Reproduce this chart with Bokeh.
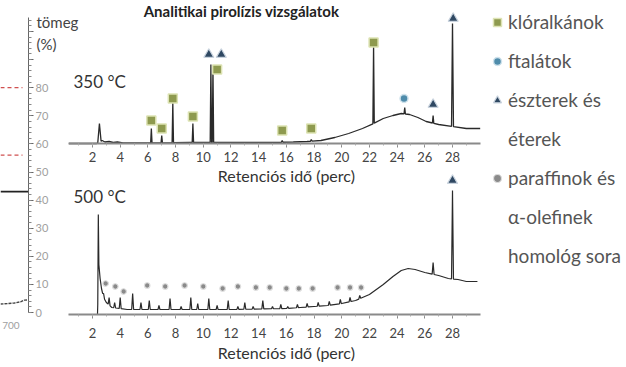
import numpy as np
from bokeh.plotting import figure
from bokeh.models import Range1d, LinearAxis, FixedTicker, Legend, LegendItem, Label
from bokeh.embed import file_html
from bokeh.resources import INLINE

FONT = "Lato"

# ---------------- data ----------------
ret_ticks = [2, 4, 6, 8, 10, 12, 14, 16, 18, 20, 22, 24, 26, 28]
ret_minor = list(range(1, 30))
tga_ticks = [0, 10, 20, 30, 40, 50, 60, 70, 80, 90, 100]
tga_minor = list(range(0, 106, 2))

# 350 °C chromatogram: baseline (retention time, intensity) and peaks
t350_base = [0.3, 2.3, 2.7, 2.9, 3.2, 3.5, 3.8, 4.2, 6, 9, 12, 15, 16.5, 17.5, 18.5,
             19.5, 20.5, 21.5, 22.3, 23, 23.7, 24.3, 24.9, 25.5, 26.1, 27, 28, 29, 30]
h350_base = [0, 0, 3, 1.5, 2, 1, 1.5, 0.5, 0.5, 1, 1, 1, 1.5, 2, 3,
             6, 10, 15, 20, 25, 28, 30, 29, 26, 22, 19, 17, 15, 15]
t350_peak = [2.5, 6.25, 7.0, 7.8, 9.25, 10.55, 10.7, 15.7, 17.8, 22.3, 24.55, 26.6, 28.0]
h350_peak = [20, 15, 8, 41, 20, 79, 76, 3, 4, 98, 36, 28, 120]
w350_peak = [0.12, 0.05, 0.05, 0.05, 0.05, 0.05, 0.05, 0.06, 0.06, 0.05, 0.05, 0.05, 0.07]

# 350 °C compound markers
chl350_t = [6.25, 7.0, 7.8, 9.25, 11.0, 15.7, 17.8, 22.3]
chl350_h = [23, 15, 45, 27, 74, 13, 15, 101]
pht350_t = [24.5]
pht350_h = [45]
est350_t = [10.4, 11.3, 26.6, 28.05]
est350_h = [89, 89, 39, 125]

# 500 °C chromatogram
t500_base = [0.3, 2.36, 2.46, 2.55, 2.65, 2.8, 3.0, 3.4, 4.5, 8, 12, 16, 17, 18, 19, 20,
             21, 22, 23, 23.7, 24.3, 24.8, 25.3, 26, 27, 27.7, 28.4, 29, 29.8]
h500_base = [0, 0, 50, 36, 26, 17, 12, 7, 5, 5, 5, 6, 7, 8, 9, 11,
             14, 20, 30, 38, 44, 46, 45, 42, 39, 36, 35, 33, 33]
t500_peak = [2.42, 2.8, 3.2, 3.6, 4.0, 4.9, 5.5, 6.1, 6.8, 7.6, 8.4, 9.1, 9.6, 10.4, 11.0,
             11.8, 12.5, 13.0, 13.6, 14.3, 15.0, 15.6, 16.1, 16.8, 17.5, 18.3, 19.1, 19.9,
             20.6, 21.3, 26.6, 28.0]
h500_peak = [100, 21, 17, 12, 17, 21, 12, 14, 9, 16, 8, 17, 11, 16, 9,
             14, 8, 12, 8, 14, 8, 10, 8, 10, 11, 12, 13, 15,
             17, 19, 52, 124]
w500_peak = [0.04] + [0.07] * 31

# 500 °C compound markers
par500_t = [2.95, 3.65, 4.25, 5.95, 7.25, 8.65, 10.0, 11.4, 12.5, 13.8, 14.8, 16.0,
            16.9, 17.9, 19.7, 20.6, 21.4]
par500_h = [31, 28, 23, 29, 28, 29, 28, 26, 28, 27, 27, 26, 26, 26, 27, 27, 27]
est500_t = [28.0]
est500_h = [134]

# thermogravimetric curve fragment (temperature °C, mass %)
tga_t = [660, 800]
tga_m = [43, 43]
tga2_t = [660, 700, 730, 760, 780, 800]
tga2_m = [3.0, 3.2, 3.4, 3.8, 4.4, 4.5]
tga_ref_t = [660, 770]
tga_ref1 = [80, 80]
tga_ref2 = [56, 56]

legend_labels = ["klóralkánok", "ftalátok", "észterek és", "éterek",
                 "paraffinok és", "α-olefinek", "homológ sora"]


def trace(bt, bh, pt, ph, pw):
    bt = np.asarray(bt, float)
    bh = np.asarray(bh, float)
    keep = np.ones(len(bt), bool)
    for t, w in zip(pt, pw):
        keep &= ~((bt > t - w) & (bt < t + w))
    xs = list(bt[keep])
    ys = list(bh[keep])
    for t, h, w in zip(pt, ph, pw):
        xs += [t - w, t, t + w]
        ys += [float(np.interp(t - w, bt, bh)), h, float(np.interp(t + w, bt, bh))]
    order = np.argsort(xs, kind="stable")
    return np.array(xs)[order], np.array(ys)[order]


# ---------------- figure ----------------
W, H = 626, 367
PXM = 360 / 26.0            # pixels per minute
X0 = 2 - 92 / PXM
p = figure(width=W, height=H, output_backend="svg", toolbar_location=None,
           x_range=Range1d(X0, X0 + W / PXM), y_range=Range1d(H, 0),
           x_axis_type=None, y_axis_type=None, min_border=0,
           outline_line_color=None, background_fill_color="white",
           border_fill_color="white")
p.extra_x_ranges = {"scr": Range1d(0, W), "tga": Range1d(660, 660 + W / 0.2)}
p.extra_y_ranges = {"top": Range1d(-(H - 143), 143),
                    "bot": Range1d(-(H - 314), 314),
                    "tga": Range1d(-(H - 312) / 2.81, 312 / 2.81)}

# TGA fragment
p.line(tga_ref_t, tga_ref1, x_range_name="tga", y_range_name="tga",
       color="#d05050", line_width=1.2, line_dash="4 3")
p.line(tga_ref_t, tga_ref2, x_range_name="tga", y_range_name="tga",
       color="#d05050", line_width=1.2, line_dash="4 3")
p.line(tga_t, tga_m, x_range_name="tga", y_range_name="tga", color="#222", line_width=1.6)
p.line(tga2_t, tga2_m, x_range_name="tga", y_range_name="tga", color="#444",
       line_width=1.4, line_dash="3 1")

tax = LinearAxis(x_range_name="tga", y_range_name="tga", fixed_location=800, bounds=(0, 105),
                 ticker=FixedTicker(ticks=tga_ticks, minor_ticks=tga_minor),
                 major_label_overrides={90: "", 100: ""})
tax.axis_line_color = "#666"
tax.axis_line_width = 1
tax.major_tick_line_color = "#666"
tax.minor_tick_line_color = "#888"
tax.major_tick_in = 0
tax.major_tick_out = 5
tax.minor_tick_in = 0
tax.minor_tick_out = 3
tax.major_label_standoff = 2
tax.major_label_text_font = FONT
tax.major_label_text_font_size = "11px"
tax.major_label_text_color = "#a0a0a0"
p.add_layout(tax, "right")

p.add_layout(Label(x=712, y=-3.5, x_range_name="tga", y_range_name="tga", text="700",
                   text_font=FONT, text_font_size="10px", text_color="#a0a0a0",
                   text_align="center", text_baseline="top"))
p.add_layout(Label(x=36, y=21, x_range_name="scr", text="tömeg", text_font=FONT,
                   text_font_size="15px", text_color="#444", text_baseline="middle"))
p.add_layout(Label(x=36, y=43, x_range_name="scr", text="(%)", text_font=FONT,
                   text_font_size="15px", text_color="#444", text_baseline="middle"))

# title
p.add_layout(Label(x=241, y=1, x_range_name="scr", text="Analitikai pirolízis vizsgálatok",
                   text_font=FONT, text_font_size="15px", text_font_style="bold",
                   text_color="#222", text_align="center", text_baseline="top"))

# chromatogram traces
x350, y350 = trace(t350_base, h350_base, t350_peak, h350_peak, w350_peak)
p.line(x350, y350, y_range_name="top", color="#2a2a2a", line_width=1.3)
x500, y500 = trace(t500_base, h500_base, t500_peak, h500_peak, w500_peak)
p.line(x500, y500, y_range_name="bot", color="#2a2a2a", line_width=1.2)


def ret_axis(rng, standoff):
    ax = LinearAxis(y_range_name=rng, fixed_location=0, bounds=(0.27, 30),
                    ticker=FixedTicker(ticks=ret_ticks, minor_ticks=ret_minor))
    ax.axis_line_color = "#8a8a8a"
    ax.axis_line_width = 2
    ax.major_tick_line_color = "#8a8a8a"
    ax.minor_tick_line_color = "#aaaaaa"
    ax.major_tick_in = 0
    ax.major_tick_out = 4
    ax.minor_tick_in = 0
    ax.minor_tick_out = 2
    ax.major_label_standoff = standoff
    ax.major_label_text_font = FONT
    ax.major_label_text_font_size = "13px"
    ax.major_label_text_color = "#444"
    p.add_layout(ax, "below")


ret_axis("top", 4)
ret_axis("bot", 9)

p.add_layout(Label(x=16.0, y=-32, y_range_name="top", text="Retenciós idő (perc)",
                   text_font=FONT, text_font_size="16px", text_color="#333",
                   text_align="center", text_baseline="middle"))
p.add_layout(Label(x=16.0, y=-38, y_range_name="bot", text="Retenciós idő (perc)",
                   text_font=FONT, text_font_size="16px", text_color="#333",
                   text_align="center", text_baseline="middle"))
p.add_layout(Label(x=73, y=81, x_range_name="scr", text="350 °C", text_font=FONT,
                   text_font_size="17px", text_color="#333", text_baseline="middle"))
p.add_layout(Label(x=73, y=196, x_range_name="scr", text="500 °C", text_font=FONT,
                   text_font_size="17px", text_color="#333", text_baseline="middle"))

# markers
SQ = dict(fill_color="#8e9a4f", line_color="#dde3b4", line_width=1.5)
CI = dict(fill_color="#4f8cab", line_color="#cfe2ec", line_width=1.5)
TR = dict(fill_color="#2f4862", line_color="#c9d3de", line_width=1.2)
PA = dict(fill_color="#8a8a8a", line_color="#dddddd", line_width=1.2)

r_sq = p.scatter(chl350_t, chl350_h, y_range_name="top", marker="square", size=9, **SQ)
r_ci = p.scatter(pht350_t, pht350_h, y_range_name="top", marker="circle", size=8, **CI)
r_tr = p.scatter(est350_t, est350_h, y_range_name="top", marker="triangle", size=10, **TR)
p.scatter(est500_t, est500_h, y_range_name="bot", marker="triangle", size=10, **TR)
r_pa = p.scatter(par500_t, par500_h, y_range_name="bot", marker="circle", size=5.5, **PA)
r_blank = p.scatter([], [], marker="circle", size=1, fill_alpha=0, line_alpha=0)

rs = [r_sq, r_ci, r_tr, r_blank, r_pa, r_blank, r_blank]
legend = Legend(items=[LegendItem(label=l, renderers=[r]) for l, r in zip(legend_labels, rs)],
                location=(487, 100), orientation="vertical", border_line_color=None,
                background_fill_alpha=0, padding=0, margin=0, spacing=16,
                glyph_width=20, glyph_height=22, label_height=22, label_standoff=1,
                label_text_font=FONT, label_text_font_size="19px",
                label_text_color="#555")
p.add_layout(legend)

open("out.html", "w").write(file_html(p, INLINE))
